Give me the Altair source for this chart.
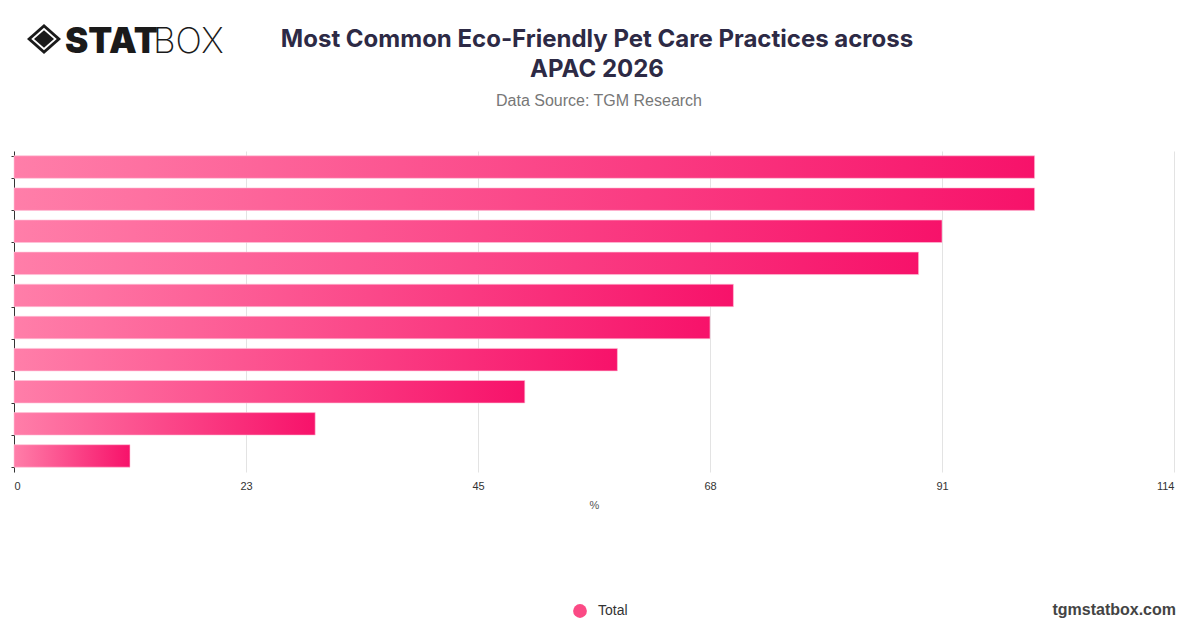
import altair as alt
import pandas as pd

# ---- data ----
categories = ["Practice 1", "Practice 2", "Practice 3", "Practice 4", "Practice 5",
              "Practice 6", "Practice 7", "Practice 8", "Practice 9", "Practice 10"]
values = [100.3, 100.3, 91.2, 88.9, 70.7, 68.4, 59.3, 50.2, 29.6, 11.4]
series_name = ["Total"]
tick_values = [0, 22.8, 45.6, 68.4, 91.2, 114]
tick_labels = ["0", "23", "45", "68", "91", "114"]
title_lines = ["Most Common Eco-Friendly Pet Care Practices across", "APAC 2026"]
subtitle_text = ["Data Source: TGM Research"]
footer_text = ["tgmstatbox.com"]

df = pd.DataFrame({"Category": categories, "Value": values, "Series": series_name * len(categories)})

label_expr = "[" + ",".join("'" + t + "'" for t in tick_labels) + "][round(datum.value/22.8)]"

grad = alt.Gradient(
    gradient="linear",
    stops=[alt.GradientStop(color="#ff7ea9", offset=0),
           alt.GradientStop(color="#f7126a", offset=1)],
    x1=0, x2=1, y1=0, y2=0,
)

x_enc = alt.X(
    "Value:Q",
    scale=alt.Scale(domain=[0, 114], nice=False, zero=True),
    axis=alt.Axis(values=tick_values, labelExpr=label_expr, domain=False, ticks=False,
                  grid=True, gridColor="#e3e3e3", labelColor="#333", labelFontSize=11,
                  labelFont="Liberation Sans", labelPadding=8, title="%",
                  titleFont="Liberation Sans", titleFontSize=11, titleFontWeight="normal",
                  titleColor="#555", titlePadding=8),
)
y_enc = alt.Y(
    "Category:N", sort=None,
    scale=alt.Scale(paddingInner=0.3, paddingOuter=0.15),
    axis=alt.Axis(labels=False, title=None, ticks=True, tickBand="extent", tickSize=3,
                  tickColor="#333", domainColor="#333", grid=False),
)

bars = alt.Chart(df).mark_bar(color=grad, stroke="#ffc2d8", strokeWidth=0.6).encode(x=x_enc, y=y_enc)

legend_layer = alt.Chart(df).mark_bar(opacity=0).encode(
    x=x_enc, y=y_enc,
    color=alt.Color("Series:N", scale=alt.Scale(domain=series_name, range=["#fb4a85"]),
                    legend=alt.Legend(orient="none", legendX=559, legendY=453, title=None,
                                      symbolType="circle", symbolSize=190, symbolOpacity=1,
                                      symbolStrokeWidth=0, labelFontSize=14,
                                      labelFont="Liberation Sans", labelColor="#333",
                                      labelOffset=11, padding=0)),
)

one = pd.DataFrame({"t": ["x"]})
diamond = "M0,-0.88L1,0L0,0.88L-1,0Z"
icon_outer = alt.Chart(one).mark_point(shape=diamond, filled=True, color="#1a1a1a", size=1156,
                                       opacity=1).encode(x=alt.value(30), y=alt.value(-112))
icon_mid = alt.Chart(one).mark_point(shape=diamond, filled=True, color="#ffffff", size=650,
                                     opacity=1).encode(x=alt.value(30), y=alt.value(-112))
icon_inner = alt.Chart(one).mark_point(shape=diamond, filled=True, color="#1a1a1a", size=400,
                                       opacity=1).encode(x=alt.value(30), y=alt.value(-112))
logo_stat = alt.Chart(pd.DataFrame({"t": ["STAT"]})).mark_text(
    align="left", baseline="alphabetic", font="Inter", fontSize=35, fontWeight=900, color="#1a1a1a"
).encode(x=alt.value(51), y=alt.value(-98), text="t:N")
logo_box = alt.Chart(pd.DataFrame({"t": ["BOX"]})).mark_text(
    align="left", baseline="alphabetic", font="Inter", fontSize=35, fontWeight=200, color="#1a1a1a"
).encode(x=alt.value(139), y=alt.value(-98), text="t:N")

title1 = alt.Chart(pd.DataFrame({"t": [title_lines[0]]})).mark_text(
    align="center", baseline="middle", font="Inter", fontSize=24, fontWeight=700, color="#2d2a45"
).encode(x=alt.value(583), y=alt.value(-111), text="t:N")
title2 = alt.Chart(pd.DataFrame({"t": [title_lines[1]]})).mark_text(
    align="center", baseline="middle", font="Inter", fontSize=24, fontWeight=700, color="#2d2a45"
).encode(x=alt.value(583), y=alt.value(-81), text="t:N")
subtitle = alt.Chart(pd.DataFrame({"t": subtitle_text})).mark_text(
    align="center", baseline="middle", font="Liberation Sans", fontSize=16, color="#777"
).encode(x=alt.value(585), y=alt.value(-50), text="t:N")

footer = alt.Chart(pd.DataFrame({"t": footer_text})).mark_text(
    align="right", baseline="middle", font="Liberation Sans", fontSize=16, fontWeight="bold",
    color="#444"
).encode(x=alt.value(1162), y=alt.value(459), text="t:N")

chart = alt.layer(bars, legend_layer, icon_outer, icon_mid, icon_inner, logo_stat, logo_box,
                  title1, title2, subtitle, footer).properties(
    width=1160, height=321,
    autosize=alt.AutoSizeParams(type="none"),
    padding={"left": 6, "top": 143, "right": 12, "bottom": 146},
    background="#ffffff",
).configure_view(strokeWidth=0, stroke="transparent")

chart.save("out.html", embed_options={"renderer": "svg", "actions": False})
